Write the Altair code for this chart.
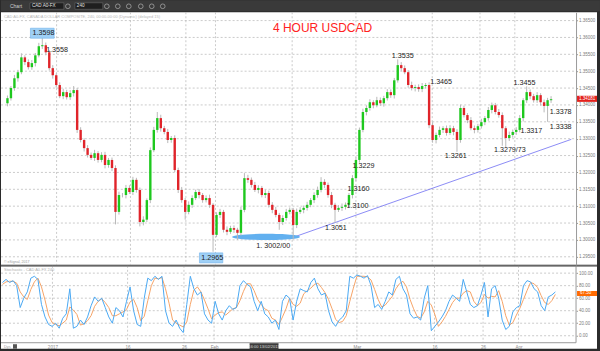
import altair as alt
import pandas as pd

# ---------------- data ----------------
# 12-hour candles of USD/CAD (late Dec 2016 .. early Apr 2017)
first_open = 1.3405
closes = [
    1.3420, 1.3450, 1.3479, 1.3497, 1.3541, 1.3527, 1.3512, 1.3524, 1.3547, 1.3574,
    1.3577, 1.3556, 1.3509, 1.3488, 1.3459, 1.3426, 1.3438, 1.3423, 1.3435, 1.3444,
    1.3326, 1.3296, 1.3272, 1.3252, 1.3243, 1.3257, 1.3237, 1.3252, 1.3222, 1.3237,
    1.3213, 1.3083, 1.3133, 1.3133, 1.3154, 1.3142, 1.3178, 1.3148, 1.3053, 1.3060,
    1.3118, 1.3266, 1.3326, 1.3361, 1.3331, 1.3320, 1.3296, 1.3302, 1.3207, 1.3148,
    1.3118, 1.3083, 1.3104, 1.3124, 1.3142, 1.3133, 1.3118, 1.3124, 1.3104, 1.3015,
    1.3074, 1.3083, 1.3030, 1.3024, 1.3035, 1.3030, 1.3021, 1.3089, 1.3183, 1.3178,
    1.3163, 1.3148, 1.3154, 1.3133, 1.3139, 1.3104, 1.3089, 1.3074, 1.3053, 1.3065,
    1.3083, 1.3089, 1.3044, 1.3083, 1.3089, 1.3095, 1.3104, 1.3118, 1.3133, 1.3148,
    1.3172, 1.3163, 1.3133, 1.3104, 1.3089, 1.3095, 1.3098, 1.3104, 1.3133, 1.3183,
    1.3237, 1.3326, 1.3379, 1.3391, 1.3408, 1.3399, 1.3414, 1.3405, 1.3420, 1.3438,
    1.3429, 1.3473, 1.3518, 1.3509, 1.3497, 1.3459, 1.3450, 1.3453, 1.3447, 1.3456,
    1.3459, 1.3340, 1.3296, 1.3311, 1.3326, 1.3331, 1.3317, 1.3331, 1.3320, 1.3296,
    1.3391, 1.3370, 1.3355, 1.3331, 1.3326, 1.3337, 1.3349, 1.3361, 1.3385, 1.3399,
    1.3379, 1.3370, 1.3331, 1.3302, 1.3311, 1.3320, 1.3326, 1.3361, 1.3414, 1.3438,
    1.3426, 1.3414, 1.3429, 1.3408, 1.3397, 1.3414, 1.3417,
]
# upper / lower wick lengths in pips
up_pips = [
    8, 6, 10, 7, 12, 6, 8, 9, 7, 10,
    21, 8, 6, 9, 5, 8, 10, 7, 9, 12,
    6, 8, 5, 9, 7, 10, 6, 8, 9, 6,
    7, 8, 10, 6, 9, 8, 9, 6, 7, 10,
    5, 8, 9, 18, 10, 7, 9, 6, 8, 7,
    9, 6, 10, 8, 7, 9, 6, 8, 10, 5,
    8, 9, 6, 10, 7, 8, 6, 9, 15, 10,
    7, 9, 8, 6, 10, 7, 8, 9, 6, 8,
    9, 7, 6, 10, 8, 7, 9, 6, 8, 10,
    14, 8, 7, 9, 6, 8, 10, 7, 6, 9,
    8, 7, 10, 8, 9, 6, 10, 8, 7, 9,
    8, 7, 17, 9, 8, 6, 10, 7, 8, 9,
    6, 8, 9, 7, 10, 6, 8, 9, 7, 8,
    10, 7, 6, 9, 8, 7, 10, 6, 9, 8,
    7, 9, 8, 6, 10, 7, 8, 9, 6, 17,
    8, 7, 9, 6, 8, 7, 9,
]
dn_pips = [
    9, 7, 8, 10, 6, 9, 7, 8, 10, 6,
    8, 9, 7, 10, 8, 6, 9, 7, 8, 10,
    9, 7, 10, 8, 6, 9, 8, 7, 10, 8,
    9, 37, 8, 7, 10, 6, 9, 8, 13, 10,
    7, 9, 6, 8, 10, 7, 9, 8, 6, 9,
    8, 23, 7, 9, 6, 10, 8, 7, 9, 50,
    7, 9, 8, 10, 6, 9, 21, 8, 7, 9,
    8, 6, 10, 7, 9, 8, 10, 7, 23, 9,
    8, 7, 42, 9, 6, 10, 8, 7, 9, 8,
    7, 9, 8, 10, 38, 6, 9, 8, 7, 10,
    9, 8, 7, 10, 8, 9, 6, 8, 10, 7,
    8, 10, 7, 9, 6, 8, 7, 10, 8, 9,
    7, 9, 8, 10, 7, 9, 8, 6, 10, 35,
    8, 7, 9, 6, 10, 8, 7, 9, 8, 10,
    7, 8, 52, 29, 9, 8, 9, 7, 10, 8,
    9, 7, 8, 10, 19, 47, 8,
]
# stochastic %K and %D
stoch_k = [
    85, 90, 85, 88, 80, 45, 60, 70, 92, 95,
    90, 50, 30, 18, 15, 20, 12, 28, 35, 75,
    12, 15, 25, 18, 30, 48, 62, 55, 60, 45,
    30, 20, 45, 40, 30, 55, 78, 40, 18, 15,
    60, 92, 88, 95, 90, 95, 40, 20, 15, 25,
    12, 5, 50, 95, 75, 65, 70, 35, 25, 20,
    55, 35, 25, 40, 48, 42, 45, 80, 88, 82,
    78, 55, 40, 55, 35, 30, 20, 25, 10, 55,
    65, 60, 25, 55, 75, 72, 70, 85, 92, 75,
    65, 68, 40, 22, 15, 25, 30, 40, 95, 92,
    97, 95, 92, 96, 80, 45, 50, 42, 55, 70,
    65, 90, 95, 75, 65, 35, 28, 30, 25, 60,
    80, 8, 15, 22, 30, 40, 55, 65, 60, 55,
    90, 70, 50, 45, 48, 65, 85, 30, 75, 80,
    60, 25, 10, 15, 38, 45, 48, 80, 88, 86,
    75, 70, 48, 40, 62, 65, 70,
]
stoch_d = [
    82, 86, 87, 87, 84, 70, 62, 58, 74, 86,
    92, 78, 57, 33, 21, 18, 16, 20, 25, 46,
    41, 34, 17, 19, 24, 32, 47, 55, 59, 53,
    45, 32, 32, 35, 38, 42, 54, 58, 45, 24,
    31, 56, 80, 92, 91, 93, 75, 52, 25, 20,
    17, 14, 22, 50, 73, 78, 70, 57, 43, 27,
    33, 37, 38, 33, 38, 43, 45, 56, 71, 83,
    83, 72, 58, 50, 43, 40, 28, 25, 18, 30,
    43, 60, 50, 47, 52, 67, 72, 76, 82, 84,
    77, 69, 58, 43, 26, 21, 23, 32, 55, 76,
    95, 95, 95, 94, 89, 74, 58, 46, 49, 56,
    63, 75, 83, 87, 78, 58, 43, 31, 28, 38,
    55, 49, 34, 15, 22, 31, 42, 53, 60, 60,
    68, 72, 70, 55, 48, 53, 66, 60, 63, 62,
    72, 55, 32, 17, 21, 33, 44, 58, 72, 85,
    83, 77, 64, 53, 50, 56, 66,
]
assert len(closes) == len(up_pips) == len(dn_pips) == len(stoch_k) == len(stoch_d)

# date ticks (candle index) and their labels
tick_pos = [14.1, 35.3, 51.2, 59.7, 81.7, 100.0, 121.9, 135.6, 145.6]
tick_lab = ["2017", "16", "26", "Feb", "", "Mar", "16", "26", "Apr"]
price_ticks = [1.295, 1.300, 1.305, 1.310, 1.315, 1.320, 1.325, 1.330,
               1.335, 1.340, 1.345, 1.350, 1.355, 1.360, 1.365]
stoch_ticks = [0, 20, 40, 60, 80, 100]

# annotations
ann_text = ["1.3598", "1.3558", "1.3535", "1.3465", "1.3455", "1.3378", "1.3338",
            "1.3317", "1.3279/73", "1.3261", "1.3229", "1.3160", "1.3100", "1.3051",
            "1. 3002/00", "1.2965"]
ann_i = [7.2, 11.1, 110.3, 121.3, 145.2, 155.6, 155.6, 147.2, 139.6, 125.5,
         99.0, 97.6, 97.3, 91.1, 71.4, 55.6]
ann_p = [1.36125, 1.35622, 1.35444, 1.34675, 1.34645, 1.33787, 1.33344, 1.33225,
         1.32663, 1.32486, 1.32190, 1.31510, 1.31006, 1.30356, 1.29823, 1.29468]
box_i0 = [6.6, 55.1]
box_i1 = [13.4, 61.8]
box_p0 = [1.36273, 1.29616]
box_p1 = [1.35977, 1.29320]
trend_i = [81.8, 161.8]
trend_p = [1.3007, 1.3298]
ellipse_i = [74.2]
ellipse_p = [1.30089]
title_i = [76.2]
title_p = [1.36273]
last_price = 1.34181
last_stoch = 67.50

# ---------------- tables ----------------
opens = [first_open] + closes[:-1]
cdf = pd.DataFrame({
    "i": list(range(len(closes))),
    "open": opens,
    "close": closes,
    "hi": [max(o, c) + u / 10000 for o, c, u in zip(opens, closes, up_pips)],
    "lo": [min(o, c) - d / 10000 for o, c, d in zip(opens, closes, dn_pips)],
    "dir": ["up" if c >= o else "down" for o, c in zip(opens, closes)],
})
sdf = pd.DataFrame({"i": list(range(len(stoch_k))), "k": stoch_k, "d": stoch_d})
vgrid_df = pd.DataFrame({"pos": tick_pos})
pgrid_df = pd.DataFrame({"p": price_ticks})
sgrid_df = pd.DataFrame({"s": stoch_ticks})
ann_df = pd.DataFrame({"t": ann_text, "i": ann_i, "p": ann_p})
box_df = pd.DataFrame({"i0": box_i0, "i1": box_i1, "p0": box_p0, "p1": box_p1})
trend_df = pd.DataFrame({"i0": [trend_i[0]], "i1": [trend_i[1]],
                         "p0": [trend_p[0]], "p1": [trend_p[1]]})
ell_df = pd.DataFrame({"i": ellipse_i, "p": ellipse_p})
title_df = pd.DataFrame({"i": title_i, "p": title_p})
one = pd.DataFrame({"k": [0]})

# ---------------- scales / axes ----------------
FONT = "Liberation Sans"
W = 597
H_MAIN = 253
H_STO = 83
xs = alt.Scale(domain=[-0.42, 167.75], nice=False, zero=False)
ys = alt.Scale(domain=[1.29261, 1.36746], nice=False, zero=False)
ss = alt.Scale(domain=[-20.73, 111.64], nice=False, zero=False)

yaxis_main = alt.Axis(orient="right", offset=-21, values=price_ticks, format=".5f",
                      grid=False, labelFontSize=4.5, labelColor="#7a7a7a", labelFont=FONT,
                      tickSize=1.5, tickColor="#9a9a9a", domainColor="#9a9a9a",
                      labelPadding=1, title=None)
yaxis_sto = alt.Axis(orient="right", offset=-21, values=stoch_ticks, format=".2f",
                     grid=False, labelFontSize=4.5, labelColor="#7a7a7a", labelFont=FONT,
                     tickSize=1.5, tickColor="#9a9a9a", domain=False,
                     labelPadding=1, title=None)
lab_pairs = [(p, l) for p, l in zip(tick_pos, tick_lab) if l]
lab_expr = "".join(f"datum.value == {p} ? '{l}' : " for p, l in lab_pairs) + "''"
xaxis_sto = alt.Axis(orient="bottom", offset=-6, values=[p for p, _ in lab_pairs],
                     labelExpr=lab_expr, grid=False, ticks=False, domain=False,
                     labelFontSize=4.6, labelColor="#8a8a8a", labelFont=FONT,
                     labelPadding=1.5, title=None)


def XM(f):
    return alt.X(f, type="quantitative", scale=xs, axis=None)


def YM(f):
    return alt.Y(f, type="quantitative", scale=ys, axis=yaxis_main)


def XS(f):
    return alt.X(f, type="quantitative", scale=xs, axis=xaxis_sto)


def YS(f):
    return alt.Y(f, type="quantitative", scale=ss, axis=yaxis_sto)


GRID = dict(color="#b4b4b4", strokeDash=[2, 2], strokeWidth=0.7)
WHITE_VIEW = alt.ViewBackground(fill="white", strokeWidth=0)

# ---------------- main (price) panel ----------------
m_vgrid = alt.Chart(vgrid_df).mark_rule(**GRID).encode(x=XM("pos"))
m_hgrid = alt.Chart(pgrid_df).mark_rule(**GRID).encode(
    y=YM("p"), x=alt.value(0), x2=alt.value(576))
m_header = alt.Chart(one).mark_text(
    text="CAD A0-FX, CANADA DOLLAR COMPOSITE, 240, 00:00-00:00 (Dynamic) (delayed 15)",
    align="left", baseline="middle", fontSize=4, color="#b8b8b8", font=FONT
).encode(x=alt.value(3), y=alt.value(4.5))
m_copy = alt.Chart(one).mark_text(
    text="© eSignal, 2017", align="left", baseline="middle", fontSize=3.6,
    color="#9a9a9a", font=FONT).encode(x=alt.value(3), y=alt.value(250))
m_trend = alt.Chart(trend_df).mark_rule(color="#6e6ef2", strokeWidth=0.8).encode(
    x=XM("i0"), x2="i1", y=YM("p0"), y2="p1")
m_ell = alt.Chart(ell_df).mark_point(
    shape="M -1 0 A 1 0.09 0 1 0 1 0 A 1 0.09 0 1 0 -1 0 Z",
    filled=True, size=4624, color="#62b0ef", opacity=1, strokeWidth=0
).encode(x=XM("i"), y=YM("p"))
m_wick = alt.Chart(cdf).mark_rule(color="#b9b9b9", strokeWidth=1).encode(
    x=XM("i"), y=YM("lo"), y2="hi")
m_body = alt.Chart(cdf).mark_bar(size=2.4).encode(
    x=XM("i"), y=YM("open"), y2="close",
    color=alt.Color("dir:N", scale=alt.Scale(domain=["up", "down"],
                                             range=["#1ec81e", "#e0242a"]), legend=None))
m_box = alt.Chart(box_df).mark_rect(fill="#9fd0f6", stroke="#6fb2ea", strokeWidth=0.6).encode(
    x=XM("i0"), x2="i1", y=YM("p0"), y2="p1")
m_ann = alt.Chart(ann_df).mark_text(
    align="left", baseline="middle", fontSize=7.2, color="#1c1c1c", font=FONT
).encode(x=XM("i"), y=YM("p"), text="t:N")
m_title = alt.Chart(title_df).mark_text(
    text="4 HOUR USDCAD", align="left", baseline="middle", fontSize=12,
    color="#ff2222", font=FONT
).encode(x=XM("i"), y=YM("p"))
m_last_box = alt.Chart(pd.DataFrame({"p0": [last_price + 0.0009],
                                     "p1": [last_price - 0.0009]})).mark_rect(
    fill="#e3211c").encode(x=alt.value(577), x2=alt.value(597), y=YM("p0"), y2="p1")
m_last_txt = alt.Chart(pd.DataFrame({"p": [last_price]})).mark_text(
    text=f"{last_price:.5f}", align="left", baseline="middle", fontSize=4.5,
    color="white", font=FONT).encode(x=alt.value(579), y=YM("p"))

main = alt.layer(
    m_vgrid, m_hgrid, m_header, m_copy, m_trend, m_ell, m_wick, m_body,
    m_box, m_ann, m_title, m_last_box, m_last_txt
).properties(width=W, height=H_MAIN, view=WHITE_VIEW)

# ---------------- stochastic panel ----------------
s_hgrid = alt.Chart(sgrid_df).mark_rule(**GRID).encode(
    y=YS("s"), x=alt.value(0), x2=alt.value(576))
s_vgrid = alt.Chart(vgrid_df).mark_rule(**GRID).encode(
    x=XS("pos"), y=alt.value(0), y2=alt.value(77))
s_bottom = alt.Chart(one).mark_rule(color="#9a9a9a", strokeWidth=1).encode(
    x=alt.value(0), x2=alt.value(576), y=alt.value(77))
s_right = alt.Chart(one).mark_rule(color="#9a9a9a", strokeWidth=1).encode(
    x=alt.value(576), y=alt.value(0), y2=alt.value(77))
s_top = alt.Chart(one).mark_rule(color="#8a8a8a", strokeWidth=1).encode(
    x=alt.value(0), x2=alt.value(597), y=alt.value(0.5))
s_label = alt.Chart(one).mark_text(
    text="Stochastic - CAD A0-FX 240", align="left", baseline="middle", fontSize=4,
    color="#b0b0b0", font=FONT).encode(x=alt.value(3), y=alt.value(4))
s_d = alt.Chart(sdf).mark_line(color="#f6a467", strokeWidth=1).encode(x=XS("i"), y=YS("d"))
s_k = alt.Chart(sdf).mark_line(color="#4aa9f3", strokeWidth=1).encode(x=XS("i"), y=YS("k"))
s_last_box = alt.Chart(pd.DataFrame({"v0": [last_stoch + 4], "v1": [last_stoch - 4]})).mark_rect(
    fill="#ff6a00").encode(x=alt.value(577), x2=alt.value(597), y=YS("v0"), y2="v1")
s_last_txt = alt.Chart(pd.DataFrame({"v": [last_stoch]})).mark_text(
    text=f"{last_stoch:.2f}", align="left", baseline="middle", fontSize=4.5,
    color="white", font=FONT).encode(x=alt.value(580), y=YS("v"))
s_timebox = alt.Chart(one).mark_rect(fill="#3c3c3c").encode(
    x=alt.value(249), x2=alt.value(278), y=alt.value(77.5), y2=alt.value(84))
s_timetxt = alt.Chart(one).mark_text(
    text="16:00 13/02/2017", align="center", baseline="middle", fontSize=4,
    color="#dddddd", font=FONT).encode(x=alt.value(263.5), y=alt.value(80.8))
s_dys = alt.Chart(one).mark_text(
    text="Dys", align="left", baseline="middle", fontSize=4, color="#a0a0a0",
    font=FONT).encode(x=alt.value(3), y=alt.value(80.8))
s_dysbox = alt.Chart(one).mark_rect(fill="#555555").encode(
    x=alt.value(12), x2=alt.value(16), y=alt.value(78.5), y2=alt.value(83))

stoch = alt.layer(
    s_hgrid, s_vgrid, s_bottom, s_right, s_top, s_label, s_d, s_k,
    s_last_box, s_last_txt, s_timebox, s_timetxt, s_dys, s_dysbox
).properties(width=W, height=H_STO, view=WHITE_VIEW)

# ---------------- toolbar ----------------
tb_box1 = alt.Chart(one).mark_rect(
    fill="#1f1f1f", stroke="#6a6a6a", strokeWidth=0.6).encode(
    x=alt.value(29), x2=alt.value(63), y=alt.value(2.5), y2=alt.value(9))
tb_box2 = alt.Chart(one).mark_rect(
    fill="#1f1f1f", stroke="#6a6a6a", strokeWidth=0.6).encode(
    x=alt.value(74), x2=alt.value(102), y=alt.value(2.5), y2=alt.value(9))
tb_t1 = alt.Chart(one).mark_text(text="Chart", align="left", baseline="middle",
                                 fontSize=5, color="#d0d0d0", font=FONT).encode(
    x=alt.value(9), y=alt.value(6))
tb_t2 = alt.Chart(one).mark_text(text="CAD A0-FX", align="left", baseline="middle",
                                 fontSize=4.6, color="#e0e0e0", font=FONT).encode(
    x=alt.value(31), y=alt.value(6))
tb_t3 = alt.Chart(one).mark_text(text="240", align="left", baseline="middle",
                                 fontSize=4.6, color="#e0e0e0", font=FONT).encode(
    x=alt.value(76), y=alt.value(6))
icon_x = [67, 106, 117, 128, 140, 151, 162]
tb_icons = alt.Chart(pd.DataFrame({"ix": icon_x})).mark_point(
    shape="circle", size=22, color="#cfcfcf", strokeWidth=0.8).encode(
    x=alt.X("ix:Q", scale=alt.Scale(domain=[0, 600], nice=False), axis=None),
    y=alt.value(6))
toolbar = alt.layer(tb_box1, tb_box2, tb_t1, tb_t2, tb_t3, tb_icons).properties(
    width=600, height=11, view=alt.ViewBackground(fill="#3a3a3a", strokeWidth=0))

chart = alt.vconcat(toolbar, main, stoch, spacing=1, bounds="flush").properties(
    background="#2b2b2b",
    padding={"left": 0, "top": 0, "right": 0, "bottom": 2},
).configure_view(strokeWidth=0).configure(font=FONT)

chart.save("out.html", embed_options={"renderer": "svg", "actions": False})
